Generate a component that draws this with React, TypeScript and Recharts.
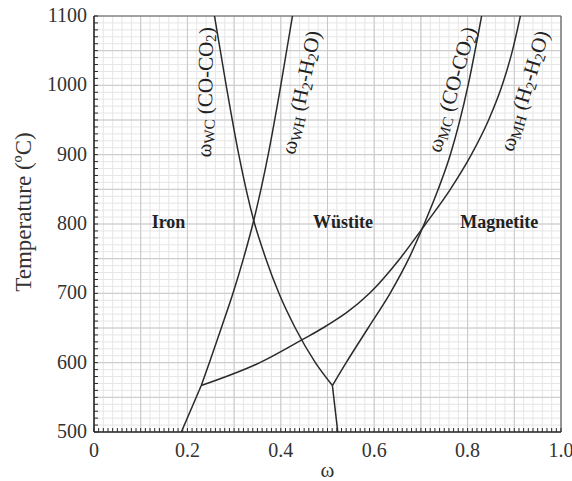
import React from "react";
import { LineChart, Line, XAxis, YAxis, ReferenceLine, ReferenceDot, Label } from "recharts";

// ---- data (omega, temperature) ----
const wcUpperT = [1100, 1000, 900, 805, 750, 700, 650, 600, 567];
const wcUpperW = [0.258, 0.283, 0.31, 0.342, 0.368, 0.396, 0.431, 0.474, 0.5105];
const wcLowerT = [567, 500];
const wcLowerW = [0.5105, 0.522];

const whLowerT = [500, 567];
const whLowerW = [0.187, 0.2297];
const whUpperT = [567, 600, 650, 700, 750, 805, 900, 1000, 1100];
const whUpperW = [0.2297, 0.247, 0.2726, 0.2976, 0.32, 0.342, 0.373, 0.4, 0.425];

const mcT = [567, 600, 650, 700, 750, 800, 850, 900, 1000, 1100];
const mcW = [0.5105, 0.54, 0.587, 0.634, 0.674, 0.707, 0.737, 0.763, 0.801, 0.83];

const mhT = [567, 600, 634, 650, 700, 750, 800, 850, 900, 950, 1000, 1050, 1100];
const mhW = [0.2297, 0.355, 0.448, 0.49, 0.59, 0.655, 0.71, 0.763, 0.808, 0.845, 0.874, 0.896, 0.913];

const xTickValues = [0, 0.2, 0.4, 0.6, 0.8, 1.0];
const xTickText = ["0", "0.2", "0.4", "0.6", "0.8", "1.0"];
const yTickValues = [500, 600, 700, 800, 900, 1000, 1100];
const yTickText = ["500", "600", "700", "800", "900", "1000", "1100"];

const regionNames = ["Iron", "Wüstite", "Magnetite"];

const zip = (w: number[], t: number[]) => w.map((v, i) => ({ w: v, t: t[i] }));
const seriesList = [
  zip(wcUpperW, wcUpperT),
  zip(wcLowerW, wcLowerT),
  zip(whLowerW, whLowerT),
  zip(whUpperW, whUpperT),
  zip(mcW, mcT),
  zip(mhW, mhT),
];

// tick / grid positions
const xMinorTicks = Array.from({ length: 101 }, (_, i) => i / 100);
const yMinorTicks = Array.from({ length: 61 }, (_, i) => 500 + i * 10);
const xGridMinor = Array.from({ length: 51 }, (_, i) => i / 50);
const xGridMajor = Array.from({ length: 11 }, (_, i) => i / 10);
const yGridMinor = Array.from({ length: 61 }, (_, i) => 500 + i * 10);
const yGridMajor = Array.from({ length: 13 }, (_, i) => 500 + i * 50);

const FONT = "'Liberation Serif', 'Times New Roman', serif";
const INK = "#2a2a2a";

const XTick = (props: any) => {
  const { x, y, payload } = props;
  const idx = xTickValues.findIndex((v) => Math.abs(v - payload.value) < 1e-6);
  return (
    <g>
      <line x1={x} x2={x} y1={y} y2={y - 4} stroke={INK} strokeWidth={1} />
      {idx >= 0 && (
        <text x={x} y={y + 25} textAnchor="middle" fontFamily={FONT} fontSize={20} fill="#333">
          {xTickText[idx]}
        </text>
      )}
    </g>
  );
};

const YTick = (props: any) => {
  const { x, y, payload } = props;
  const idx = yTickValues.findIndex((v) => Math.abs(v - payload.value) < 1e-6);
  return (
    <g>
      <line x1={x} x2={x + 4} y1={y} y2={y} stroke={INK} strokeWidth={1} />
      {idx >= 0 && (
        <text x={x - 7} y={y + 6} textAnchor="end" fontFamily={FONT} fontSize={20} fill="#333">
          {yTickText[idx]}
        </text>
      )}
    </g>
  );
};

const CurveLabel = (angle: number, kind: "C" | "H", sub: string) => (p: any) => {
  const { cx, cy } = p;
  return (
    <text
      x={cx}
      y={cy}
      textAnchor="middle"
      dominantBaseline="central"
      fontFamily={FONT}
      fontSize={21}
      fill="#222"
      transform={`rotate(${angle}, ${cx}, ${cy})`}
    >
      <tspan>ω</tspan>
      <tspan fontSize={15} dy={5}>{sub}</tspan>
      {kind === "C" ? (
        <>
          <tspan dy={-5}> (CO-CO</tspan>
          <tspan fontSize={15} dy={5}>2</tspan>
          <tspan dy={-5}>)</tspan>
        </>
      ) : (
        <>
          <tspan dy={-5}> (H</tspan>
          <tspan fontSize={15} dy={5}>2</tspan>
          <tspan dy={-5}>-H</tspan>
          <tspan fontSize={15} dy={5}>2</tspan>
          <tspan dy={-5}>O)</tspan>
        </>
      )}
    </text>
  );
};

const RegionLabel = (name: string) => (p: any) => (
  <text
    x={p.cx}
    y={p.cy}
    textAnchor="middle"
    dominantBaseline="central"
    fontFamily={FONT}
    fontSize={18}
    fontWeight="bold"
    fill="#222"
  >
    {name}
  </text>
);

const curveLabels = [
  { w: 0.238, t: 990, angle: -89, kind: "C" as const, sub: "WC" },
  { w: 0.443, t: 990, angle: -78, kind: "H" as const, sub: "WH" },
  { w: 0.766, t: 994, angle: -74, kind: "C" as const, sub: "MC" },
  { w: 0.922, t: 992, angle: -73, kind: "H" as const, sub: "MH" },
];
const regionPos = [
  { w: 0.1595, t: 803 },
  { w: 0.533, t: 803 },
  { w: 0.868, t: 803 },
];

export default function App() {
  return (
    <div style={{ position: "absolute", left: 0, top: 0, width: 572, height: 481, background: "#fff" }}>
      <LineChart width={572} height={481} margin={{ top: 16, right: 11, bottom: 0, left: 0 }}>
        <XAxis
          type="number"
          dataKey="w"
          domain={[0, 1]}
          ticks={xMinorTicks}
          interval={0}
          tick={<XTick />}
          tickLine={false}
          tickSize={0}
          tickMargin={0}
          height={49}
          axisLine={{ stroke: INK, strokeWidth: 1.6 }}
          allowDataOverflow
        >
          <Label
            content={(p: any) => {
              const vb = p.viewBox;
              return (
                <text x={vb.x + vb.width / 2} y={vb.y + 45} textAnchor="middle" fontFamily={FONT} fontSize={21} fill="#333">
                  ω
                </text>
              );
            }}
          />
        </XAxis>
        <YAxis
          type="number"
          dataKey="t"
          domain={[500, 1100]}
          ticks={yMinorTicks}
          interval={0}
          tick={<YTick />}
          tickLine={false}
          tickSize={0}
          tickMargin={0}
          width={94}
          axisLine={{ stroke: INK, strokeWidth: 1.6 }}
          allowDataOverflow
        >
          <Label
            content={(p: any) => {
              const vb = p.viewBox;
              const cx = vb.x + 23;
              const cy = vb.y + vb.height / 2 - 12;
              return (
                <text
                  x={cx}
                  y={cy}
                  textAnchor="middle"
                  dominantBaseline="central"
                  fontFamily={FONT}
                  fontSize={23}
                  fill="#333"
                  transform={`rotate(-90, ${cx}, ${cy})`}
                >
                  Temperature (ºC)
                </text>
              );
            }}
          />
        </YAxis>

        {xGridMinor.map((v) => (
          <ReferenceLine key={`xm${v}`} x={v} stroke="#e6e6e6" strokeWidth={1} />
        ))}
        {yGridMinor.map((v) => (
          <ReferenceLine key={`ym${v}`} y={v} stroke="#e6e6e6" strokeWidth={1} />
        ))}
        {xGridMajor.map((v) => (
          <ReferenceLine key={`xM${v}`} x={v} stroke="#c8c8c8" strokeWidth={1} />
        ))}
        {yGridMajor.map((v) => (
          <ReferenceLine key={`yM${v}`} y={v} stroke="#c8c8c8" strokeWidth={1} />
        ))}
        <ReferenceLine y={1100} stroke="#666" strokeWidth={1.2} />
        <ReferenceLine x={1} stroke="#666" strokeWidth={1.2} />

        {seriesList.map((d, i) => (
          <Line
            key={i}
            data={d}
            dataKey="t"
            type="monotone"
            stroke="#2a2a2a"
            strokeWidth={1.5}
            dot={false}
            activeDot={false}
            isAnimationActive={false}
          />
        ))}

        {curveLabels.map((c, i) => (
          <ReferenceDot key={`cl${i}`} x={c.w} y={c.t} r={0} shape={CurveLabel(c.angle, c.kind, c.sub)} />
        ))}
        {regionPos.map((r, i) => (
          <ReferenceDot key={`rl${i}`} x={r.w} y={r.t} r={0} shape={RegionLabel(regionNames[i])} />
        ))}
      </LineChart>
    </div>
  );
}
